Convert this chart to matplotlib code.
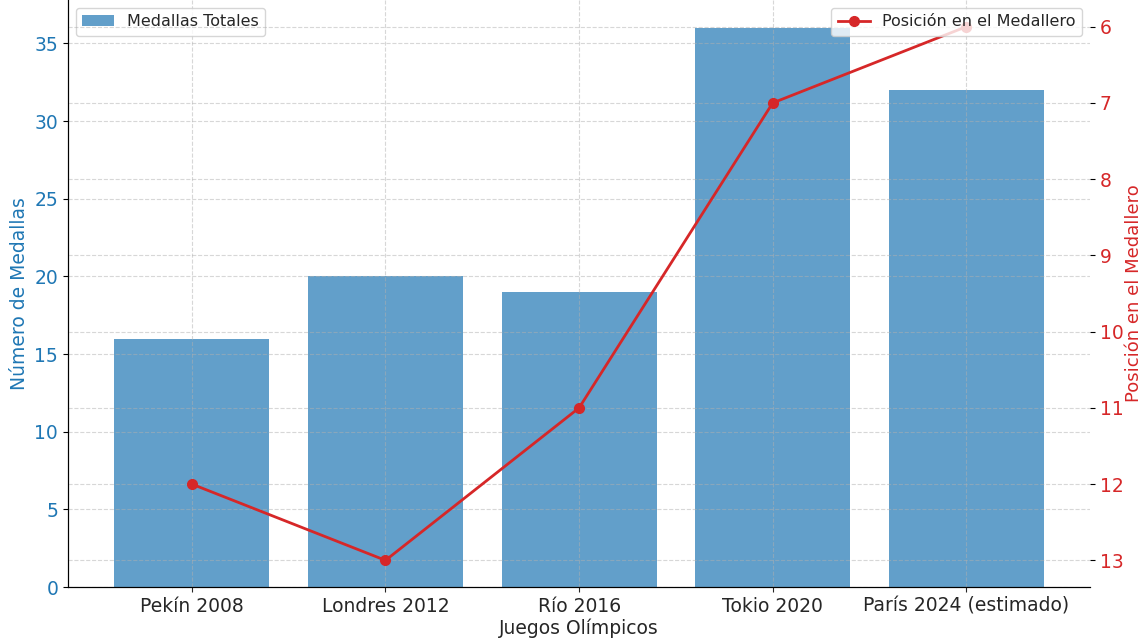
import numpy as np
import matplotlib.pyplot as plt

plt.rcParams['font.family'] = ['DejaVu Sans']
plt.rcParams['text.color'] = '#262626'
plt.rcParams['xtick.color'] = '#262626'
plt.rcParams['axes.labelcolor'] = '#262626'

# datos
juegos = ['Pekín 2008', 'Londres 2012', 'Río 2016', 'Tokio 2020', 'París 2024 (estimado)']
medallas = [16, 20, 19, 36, 32]
posicion = [12, 13, 11, 7, 6]

fig, ax1 = plt.subplots(figsize=(11.44, 6.41), dpi=100)
fig.subplots_adjust(left=0.0594, right=0.953, bottom=0.0842, top=1.0)

x = np.arange(len(juegos))
ax1.bar(x, medallas, width=0.8, color='tab:blue', alpha=0.7, label='Medallas Totales')
ax1.set_xticks(x)
ax1.set_xticklabels(juegos, fontsize=13.5)
ax1.set_xlabel('Juegos Olímpicos', fontsize=13.5, labelpad=2)
ax1.set_ylabel('Número de Medallas', color='tab:blue', fontsize=13.5)
ax1.tick_params(axis='y', labelcolor='tab:blue', labelsize=13.5)
ax1.grid(True, linestyle='--', alpha=0.5)
ax1.legend(loc='upper left', fontsize=11.5)

ax2 = ax1.twinx()
ax2.plot(x, posicion, color='tab:red', marker='o', linewidth=2, markersize=7,
         label='Posición en el Medallero')
ax2.invert_yaxis()
ax2.set_ylabel('Posición en el Medallero', color='tab:red', fontsize=13, labelpad=1)
ax2.tick_params(axis='y', labelcolor='tab:red', labelsize=13.5)
ax2.grid(True, linestyle='--', alpha=0.5)
ax2.legend(loc='upper right', fontsize=11.5)

for a in (ax1, ax2):
    a.spines['top'].set_visible(False)
    a.spines['right'].set_visible(False)

fig.savefig('out.png', dpi=100)
